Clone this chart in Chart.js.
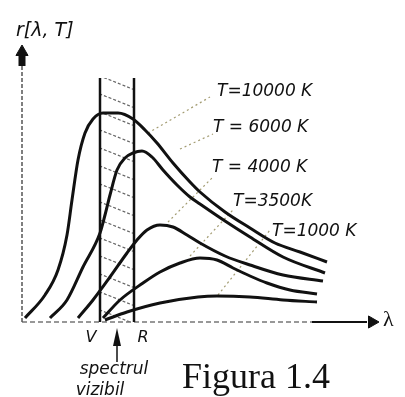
<!DOCTYPE html>
<html>
<head>
<meta charset="utf-8">
<script src="https://cdn.jsdelivr.net/npm/chart.js@4"></script>
<style>
  body { margin: 0; background: #fff; }
  canvas { display: block; }
</style>
</head>
<body>
<canvas id="chart" width="405" height="397"></canvas>
<script>
'use strict'
// curbele r(lambda, T) (unitati arbitrare)

var lam10000 = [3, 23, 36, 45, 50, 56, 63, 71, 81, 96, 111, 123, 135, 151, 168, 178, 203, 228, 253, 278, 305];
var r10000 = [4, 27, 52, 87, 122, 162, 189, 203, 209, 209, 203, 192, 179, 159, 140, 130, 110, 94, 79, 70, 60];

var lam6000 = [28, 45, 61, 78, 83, 88, 95, 103, 111, 120, 130, 141, 155, 168, 178, 203, 228, 261, 303];
var r6000 = [4, 22, 55, 89, 107, 127, 152, 164, 169, 171, 165, 152, 137, 125, 118, 101, 85, 65, 49];

var lam4000 = [56, 71, 88, 105, 115, 125, 138, 151, 165, 178, 203, 228, 261, 301];
var r4000 = [4, 22, 45, 69, 82, 92, 97, 95, 87, 79, 66, 57, 47, 41];

var lam3500 = [81, 98, 121, 138, 158, 178, 195, 211, 228, 245, 268, 295];
var r3500 = [4, 22, 39, 50, 59, 64, 62, 54, 46, 39, 32, 28];

var lam1000 = [83, 105, 138, 176, 195, 228, 261, 295];
var r1000 = [2, 10, 19, 25, 26, 25, 22, 20];

var tempLabels = ['T=10000 K', 'T = 6000 K', 'T = 4000 K', 'T=3500K', 'T=1000 K'];

// spectrul vizibil: V .. R
var bandLam = [78, 112];
var bandTop = 244;

// linii de legatura eticheta -> curba [lam, r]
var leader10000 = [[126, 189], [188, 225]];
var leader6000 = [[158, 173], [191, 188]];
var leader4000 = [[146, 100], [191, 145]];
var leader3500 = [[168, 66], [211, 112]];
var leader1000 = [[196, 27], [248, 92]];

function pts(xs, ys) {
  return xs.map(function(x, i) { return { x: x, y: ys[i] } })
}
function pairs(p) {
  return p.map(function(a) { return { x: a[0], y: a[1] } })
}

// hasura
function hatchPattern() {
  var c = document.createElement('canvas');
  c.width = 45; c.height = 18;
  var g = c.getContext('2d');
  g.strokeStyle = '#666';
  g.lineWidth = 1.2;
  g.setLineDash([3, 2]);
  [-18, 0, 18].forEach(function(dy) {
    g.beginPath();
    g.moveTo(0, dy);
    g.lineTo(45, dy + 18);
    g.stroke();
  });
  return g.createPattern(c, 'repeat');
}

function curve(xs, ys) {
  return {
    data: pts(xs, ys),
    borderColor: '#111',
    borderWidth: 3,
    pointRadius: 0,
    cubicInterpolationMode: 'monotone',
    order: 0
  }
}
function leader(p) {
  return {
    data: pairs(p),
    borderColor: '#a39c72',
    borderWidth: 1.2,
    borderDash: [2, 3],
    pointRadius: 0,
    order: 5
  }
}
function seg(p, width, dash, color) {
  return {
    data: pairs(p),
    borderColor: color || '#111',
    borderWidth: width,
    borderDash: dash || [],
    pointRadius: 0,
    clip: false,
    order: 4
  }
}
function arrowHead(x, y, rot) {
  return {
    data: [{ x: x, y: y }],
    pointStyle: 'triangle',
    rotation: rot,
    pointRadius: 7,
    backgroundColor: '#111',
    borderColor: '#111',
    showLine: false,
    clip: false,
    order: 4
  }
}

var textPlugin = {
  id: 'texte',
  afterDraw: function(chart) {
    var ctx = chart.ctx;
    var xs = chart.scales.x;
    ctx.save();
    ctx.fillStyle = '#111';
    ctx.textBaseline = 'middle';
    ctx.textAlign = 'left';
    ctx.font = 'italic 19px "DejaVu Sans"';
    ctx.fillText('r[λ, T]', 16, 31);
    var lp = [[217, 92], [213, 128], [212, 168], [233, 202], [272, 232]];
    ctx.font = 'italic 17px "DejaVu Sans"';
    tempLabels.forEach(function(t, i) {
      ctx.fillText(t, lp[i][0], lp[i][1]);
    });
    ctx.textAlign = 'center';
    ctx.font = 'italic 16px "DejaVu Sans"';
    ctx.fillText('V', xs.getPixelForValue(bandLam[0]) - 9, 338);
    ctx.fillText('R', xs.getPixelForValue(bandLam[1]) + 9, 338);
    ctx.font = 'italic 17px "DejaVu Sans"';
    ctx.fillText('spectrul', 114, 370);
    ctx.fillText('vizibil', 100, 391);
    // sageata spectrul vizibil
    var mx = (xs.getPixelForValue(bandLam[0]) + xs.getPixelForValue(bandLam[1])) / 2;
    ctx.strokeStyle = '#111';
    ctx.lineWidth = 1.5;
    ctx.beginPath();
    ctx.moveTo(mx, 362);
    ctx.lineTo(mx, 340);
    ctx.stroke();
    ctx.beginPath();
    ctx.moveTo(mx, 328);
    ctx.lineTo(mx + 4, 346);
    ctx.lineTo(mx - 4, 346);
    ctx.closePath();
    ctx.fill();
    ctx.textAlign = 'left';
    ctx.font = '22px "Liberation Serif"';
    ctx.fillText('λ', 383, 320);
    ctx.textBaseline = 'alphabetic';
    ctx.font = '36px "Liberation Serif"';
    ctx.fillText('Figura 1.4', 182, 388);
    ctx.restore();
  }
};

var ctx = document.getElementById('chart').getContext('2d');
var chart = new Chart(ctx, {
  type: 'line',
  data: {
    datasets: [
      curve(lam10000, r10000),
      curve(lam6000, r6000),
      curve(lam4000, r4000),
      curve(lam3500, r3500),
      curve(lam1000, r1000),
      leader(leader10000),
      leader(leader6000),
      leader(leader4000),
      leader(leader3500),
      leader(leader1000),
      // marginile benzii
      seg([[bandLam[0], 0], [bandLam[0], bandTop]], 2.5),
      seg([[bandLam[1], 0], [bandLam[1], bandTop]], 2.5),
      {
        data: pairs([[bandLam[0], bandTop], [bandLam[1], bandTop]]),
        borderWidth: 0,
        pointRadius: 0,
        fill: 'origin',
        backgroundColor: hatchPattern(),
        order: 10
      },
      // axe
      seg([[0, 0], [0, 258]], 1.5, [4, 2], '#555'),
      seg([[0, 256], [0, 266]], 7),
      arrowHead(0, 270, 0),
      seg([[0, 0], [290, 0]], 1.5, [5, 3], '#777'),
      seg([[290, 0], [345, 0]], 2),
      arrowHead(350, 0, 90)
    ]
  },
  options: {
    responsive: false,
    animation: false,
    layout: { padding: { left: 22, right: 23, top: 40, bottom: 75 } },
    scales: {
      x: { type: 'linear', min: 0, max: 360, display: false },
      y: { type: 'linear', min: 0, max: 282, display: false }
    },
    plugins: {
      legend: { display: false },
      tooltip: { enabled: false }
    }
  },
  plugins: [textPlugin]
});
</script>
</body>
</html>
